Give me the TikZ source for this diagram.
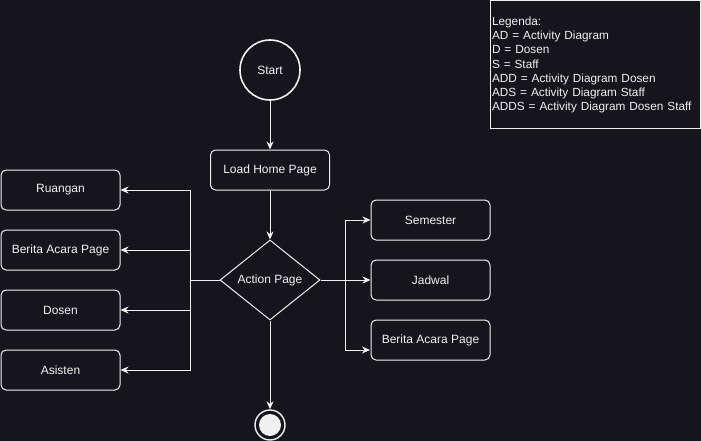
\documentclass[tikz,border=0pt]{standalone}
\usepackage{fontspec}
\setmainfont{Liberation Sans}
\usetikzlibrary{arrows.meta,shapes.geometric}
\definecolor{bg}{RGB}{24,20,29}
\definecolor{fg}{RGB}{240,240,240}

\begin{document}
\begin{tikzpicture}[x=1pt,y=-1pt,line width=1pt,
  every node/.style={text=fg,font=\fontsize{12}{14.3}\selectfont},
  box/.style={draw=fg,rounded corners=5pt,minimum width=119pt,minimum height=40pt,inner sep=0pt},
  >={Stealth[length=8pt,width=7pt]}]
  \useasboundingbox[fill=bg] (0,0) rectangle (701,441);

  \node (start)    at (270,70)    [draw=fg,circle,line width=1.6pt,minimum size=60pt,inner sep=0pt] {Start};
  \node (load)     at (270,170)   [box] {Load Home Page};
  \node (action)   at (270,280)   [draw=fg,diamond,minimum width=100pt,minimum height=80pt,inner sep=0pt] {Action Page};
  \node (ruangan)  at (60.5,190)  [box] {Ruangan};
  \node (beritaL)  at (60.5,250)  [box] {Berita Acara Page};
  \node (dosen)    at (60.5,310)  [box] {Dosen};
  \node (asisten)  at (60.5,370)  [box] {Asisten};
  \node (semester) at (430.5,220) [box] {Semester};
  \node (jadwal)   at (430.5,280) [box] {Jadwal};
  \node (beritaR)  at (430.5,340) [box] {Berita Acara Page};
  \node (final)    at (270,425)   [draw=fg,circle,line width=1.4pt,minimum size=30pt,inner sep=0pt] {};
  \fill[fg] (final) circle (11pt);

  \node (legend) at (595,65) [draw=fg,minimum width=210pt,minimum height=128pt,
    text width=206pt,align=left,inner sep=2pt,font=\fontsize{11.8}{14.3}\selectfont]
    {Legenda:\\AD = Activity Diagram\\D = Dosen\\S = Staff\\ADD = Activity Diagram Dosen\\ADS = Activity Diagram Staff\\ADDS = Activity Diagram Dosen Staff};

  \coordinate (lbus) at (190,280);
  \coordinate (rbus) at (345,280);
  \coordinate (rin)  at (370,350);

  \draw[draw=fg,->] (start) -- (load);
  \draw[draw=fg,->] (load) -- (action);
  \draw[draw=fg,->] (action) -- (final);
  % left branch
  \draw[draw=fg] (action.west) -- (lbus);
  \draw[draw=fg,->] (lbus) |- (ruangan.east);
  \draw[draw=fg,->] (lbus) |- (beritaL.east);
  \draw[draw=fg,->] (lbus) |- (dosen.east);
  \draw[draw=fg,->] (lbus) |- (asisten.east);
  % right branch
  \draw[draw=fg,->] (action.east) -- (jadwal.west);
  \draw[draw=fg,->] (rbus) |- (semester.west);
  \draw[draw=fg,->] (rbus) |- (rin);
\end{tikzpicture}
\end{document}
